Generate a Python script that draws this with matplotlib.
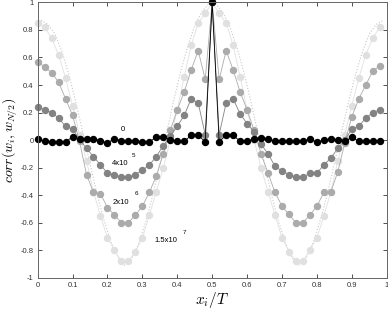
import numpy as np
import matplotlib
matplotlib.use("Agg")
import matplotlib.pyplot as plt

plt.rcParams['font.family'] = ['Liberation Sans', 'DejaVu Sans']
plt.rcParams['mathtext.fontset'] = 'cm'

# sample positions x_i/T (N = 50)
x = [i / 50 for i in range(50)]

# correlation for the different times
c0 = [0.01, -0.01, -0.015, -0.015, -0.015, 0.025, 0.005, 0.01, 0.01, -0.005,
      -0.02, 0.01, -0.005, -0.005, -0.005, -0.012, -0.012, 0.02, 0.025, 0.0,
      -0.01, -0.01, 0.035, 0.035, -0.012, 1.0, -0.012, 0.036, 0.036, -0.01,
      -0.01, 0.01, 0.015, 0.01, -0.01, -0.01, -0.01, -0.01, -0.01, 0.01,
      -0.015, 0.0, 0.01, 0.0, -0.01, 0.02, -0.01, -0.01, -0.01, -0.01]
c4e5 = [0.24, 0.22, 0.20, 0.16, 0.10, 0.08, 0.005, -0.06, -0.12, -0.18,
        -0.24, -0.25, -0.27, -0.27, -0.25, -0.22, -0.18, -0.12, -0.04, 0.03,
        0.10, 0.18, 0.30, 0.27, 0.04, 1.0, 0.04, 0.27, 0.30, 0.19,
        0.12, 0.06, -0.03, -0.10, -0.19, -0.225, -0.25, -0.27, -0.27, -0.24,
        -0.24, -0.18, -0.13, -0.06, 0.0, 0.08, 0.10, 0.16, 0.20, 0.22]
c2e6 = [0.57, 0.53, 0.49, 0.42, 0.30, 0.18, -0.01, -0.25, -0.38, -0.39,
        -0.49, -0.545, -0.60, -0.60, -0.545, -0.48, -0.38, -0.26, -0.10, 0.07,
        0.22, 0.35, 0.51, 0.65, 0.44, 1.0, 0.44, 0.65, 0.51, 0.35,
        0.22, 0.07, -0.10, -0.24, -0.38, -0.48, -0.54, -0.60, -0.60, -0.545,
        -0.48, -0.38, -0.375, -0.23, -0.02, 0.17, 0.30, 0.40, 0.50, 0.54]
c15e7 = [0.85, 0.82, 0.74, 0.62, 0.45, 0.25, 0.04, -0.15, -0.375, -0.55,
         -0.71, -0.80, -0.88, -0.88, -0.81, -0.71, -0.545, -0.375, -0.20, 0.0,
         0.22, 0.46, 0.69, 0.85, 0.92, 1.0, 0.92, 0.85, 0.69, 0.46,
         0.22, 0.0, -0.20, -0.375, -0.545, -0.71, -0.81, -0.88, -0.88, -0.80,
         -0.71, -0.55, -0.375, -0.15, 0.04, 0.25, 0.45, 0.62, 0.74, 0.82]

# dotted reference curve
xd = [0.01, 0.03, 0.05, 0.07, 0.09, 0.11, 0.13, 0.15, 0.17, 0.19, 0.21, 0.23, 0.25,
      0.27, 0.29, 0.31, 0.33, 0.35, 0.37, 0.39, 0.41, 0.43, 0.45, 0.47, 0.49, 0.50,
      0.51, 0.53, 0.55, 0.57, 0.59, 0.61, 0.63, 0.65, 0.67, 0.69, 0.71, 0.73, 0.75,
      0.77, 0.79, 0.81, 0.83, 0.85, 0.87, 0.89, 0.91, 0.93, 0.95, 0.97, 0.99]
yd = [0.87, 0.84, 0.77, 0.64, 0.47, 0.27, 0.05, -0.17, -0.39, -0.58, -0.74, -0.85, -0.91,
      -0.86, -0.75, -0.59, -0.40, -0.17, 0.06, 0.29, 0.50, 0.68, 0.83, 0.93, 0.99, 1.0,
      0.99, 0.93, 0.83, 0.68, 0.50, 0.29, 0.06, -0.17, -0.40, -0.59, -0.75, -0.86, -0.91,
      -0.85, -0.74, -0.58, -0.39, -0.17, 0.05, 0.27, 0.47, 0.64, 0.77, 0.84, 0.87]

fig = plt.figure(figsize=(3.88, 3.09), dpi=100)
ax = fig.add_axes([0.097, 0.101, 0.8997, 0.8913])

ax.plot(xd, yd, ':', color='#c8c8c8', lw=0.8)
ax.plot(x, c15e7, '-o', color='#e0e0e0', mec='#e0e0e0', ms=4.3, lw=0.6, clip_on=False)
ax.plot(x, c2e6, '-o', color='#ababab', mec='#ababab', ms=4.3, lw=0.6, clip_on=False)
ax.plot(x, c4e5, '-o', color='#838383', mec='#838383', ms=4.3, lw=0.6, clip_on=False)
ax.plot(x, c0, '-o', color='black', mec='black', ms=4.3, lw=0.6, clip_on=False)

fs = 5.5
ax.text(0.245, 0.08, '0', fontsize=fs, ha='center', va='center')
ax.text(0.212, -0.17, '4x10', fontsize=fs, ha='left', va='center')
ax.text(0.27, -0.11, '5', fontsize=fs - 1, ha='left', va='center')
ax.text(0.216, -0.45, '2x10', fontsize=fs, ha='left', va='center')
ax.text(0.278, -0.385, '6', fontsize=fs - 1, ha='left', va='center')
ax.text(0.334, -0.73, '1.5x10', fontsize=fs, ha='left', va='center')
ax.text(0.415, -0.67, '7', fontsize=fs - 1, ha='left', va='center')

ax.set_xlim(0, 1)
ax.set_ylim(-1, 1)
xt = [0, 0.1, 0.2, 0.3, 0.4, 0.5, 0.6, 0.7, 0.8, 0.9, 1]
yt = [-1, -0.8, -0.6, -0.4, -0.2, 0, 0.2, 0.4, 0.6, 0.8, 1]
ax.set_xticks(xt)
ax.set_xticklabels(['0', '0.1', '0.2', '0.3', '0.4', '0.5', '0.6', '0.7', '0.8', '0.9', '1'])
ax.set_yticks(yt)
ax.set_yticklabels(['-1', '-0.8', '-0.6', '-0.4', '-0.2', '0', '0.2', '0.4', '0.6', '0.8', '1'])
ax.tick_params(direction='in', top=True, right=True, labelsize=5.5, length=3,
               width=0.6, colors='#333333', pad=3)
for s in ax.spines.values():
    s.set_linewidth(0.7)
    s.set_color('#666666')

ax.set_xlabel(r'$x_i/T$', fontsize=11)
ax.set_ylabel(r'$corr(w_i, w_{N/2})$', fontsize=10)
ax.xaxis.set_label_coords(0.5, -0.045)
ax.yaxis.set_label_coords(-0.05, 0.5)

plt.savefig('out.png', dpi=100)
